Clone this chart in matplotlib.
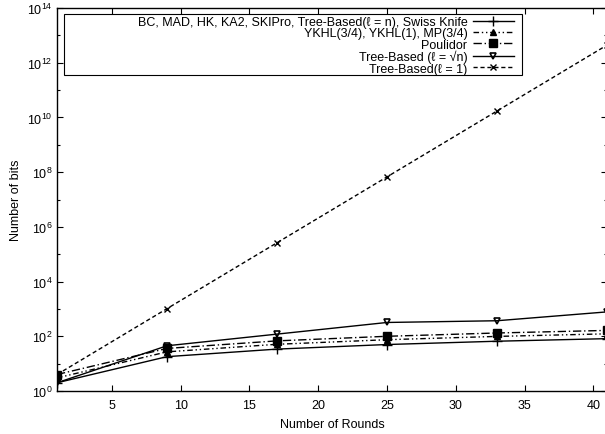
import matplotlib
matplotlib.use("Agg")
import matplotlib.pyplot as plt
from matplotlib.patches import Rectangle

plt.rcParams['font.family'] = ['Liberation Sans', 'DejaVu Sans']
plt.rcParams['mathtext.fontset'] = 'dejavusans'

# rounds on the x axis
rounds = [1, 9, 17, 25, 33, 41]

# bits needed per protocol
bits_bc = [2, 18, 34, 50, 66, 82]
bits_ykhl = [3, 27, 51, 75, 99, 123]
bits_poulidor = [4, 36, 68, 100, 132, 164]
bits_tree_sqrt = [2, 45, 120, 320, 370, 780]
bits_tree_one = [4, 1024, 262144, 67108864, 17179869184, 4398046511104]

labels = [
    "BC, MAD, HK, KA2, SKIPro, Tree-Based(\u2113 = n), Swiss Knife",
    "YKHL(3/4), YKHL(1), MP(3/4)",
    "Poulidor",
    "Tree-Based (\u2113 = \u221an)",
    "Tree-Based(\u2113 = 1)",
]

fs = 9

fig = plt.figure(figsize=(6.05, 4.35), dpi=100)
ax = fig.add_axes([57 / 605, 43 / 435, 550 / 605, 383 / 435])

lw = 1.0
ax.plot(rounds, bits_bc, color='black', lw=lw, marker='+', ms=7, mew=1.0, label=labels[0])
ax.plot(rounds, bits_ykhl, color='black', lw=lw, dashes=(4, 2, 1, 2, 1, 2),
        marker='^', ms=4, label=labels[1])
ax.plot(rounds, bits_poulidor, color='black', lw=lw, dashes=(6, 2, 1, 2),
        marker='s', ms=6, label=labels[2])
ax.plot(rounds, bits_tree_sqrt, color='black', lw=lw, marker='v', ms=5,
        mfc='none', mew=1.2, label=labels[3])
ax.plot(rounds, bits_tree_one, color='black', lw=lw, dashes=(3, 2),
        marker='x', ms=5, mew=1.0, label=labels[4])

ax.set_yscale('log')
ax.set_xlim(1, 41)
ax.set_ylim(1, 1e14)
ax.set_xticks([5, 10, 15, 20, 25, 30, 35, 40])
ax.set_yticks([10.0 ** k for k in range(0, 15, 2)])
ax.set_yticks([10.0 ** k for k in range(1, 14, 2)], minor=True)
ax.yaxis.set_minor_formatter(plt.NullFormatter())
ax.tick_params(which='both', direction='in', top=True, right=True, labelsize=fs)
ax.tick_params(which='major', length=4.5, width=0.8)
ax.tick_params(which='minor', length=2.5, width=0.8)
ax.tick_params(axis='x', pad=6)
for s in ax.spines.values():
    s.set_linewidth(1.0)

ax.set_xlabel("Number of Rounds", fontsize=fs, labelpad=5)
ax.set_ylabel("Number of bits", fontsize=fs, labelpad=3)

# gnuplot style key: box drawn separately, labels right aligned
ax.add_patch(Rectangle((64 / 605, (435 - 76) / 435), (522 - 64) / 605, 61.5 / 435,
                       transform=fig.transFigure, fill=False, ec='black', lw=0.8,
                       zorder=5))
leg = ax.legend(loc='upper right', bbox_to_anchor=(515 / 605, 1 - 16 / 435),
                bbox_transform=fig.transFigure, frameon=False, markerfirst=False,
                fontsize=fs, handlelength=3.3, handletextpad=0.4,
                labelspacing=-0.06, borderpad=0.1, borderaxespad=0)

fig.savefig("out.png", dpi=100)
